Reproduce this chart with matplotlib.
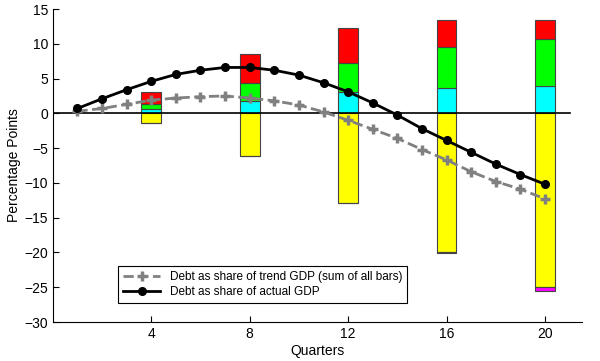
import matplotlib
matplotlib.use("Agg")
import matplotlib.pyplot as plt
import numpy as np

plt.rcParams["font.family"] = ["Liberation Sans", "DejaVu Sans"]

quarters = np.arange(1, 21)
actual = [0.7, 2.1, 3.4, 4.6, 5.6, 6.2, 6.6, 6.6, 6.2, 5.5, 4.4, 3.1, 1.5, -0.25, -2.2,
          -3.9, -5.6, -7.3, -8.8, -10.2]
trend = [0.3, 0.7, 1.3, 1.9, 2.2, 2.4, 2.5, 2.2, 1.8, 1.2, 0.2, -1.0, -2.3, -3.6, -5.2,
         -6.7, -8.4, -9.8, -10.9, -12.3]

bar_q = [4, 8, 12, 16, 20]
cyan = [0.6, 1.8, 3.0, 3.7, 3.9]
green = [0.7, 2.5, 4.3, 5.8, 6.8]
red = [1.8, 4.2, 5.0, 3.9, 2.7]
yellow = [-1.4, -6.1, -12.9, -19.9, -25.0]
magenta = [0.0, 0.0, 0.0, -0.2, -0.5]

fig = plt.figure(figsize=(6, 3.61), dpi=100)
ax = fig.add_axes([0.088, 0.108, 0.882, 0.867])

w = 0.8
ec = "#444444"
ax.bar(bar_q, cyan, w, color="#00ffff", edgecolor=ec, lw=0.8, zorder=2)
ax.bar(bar_q, green, w, bottom=cyan, color="#00ff00", edgecolor=ec, lw=0.8, zorder=2)
ax.bar(bar_q, red, w, bottom=np.add(cyan, green), color="#ff0000", edgecolor=ec, lw=0.8, zorder=2)
ax.bar(bar_q, yellow, w, color="#ffff00", edgecolor=ec, lw=0.8, zorder=2)
ax.bar(bar_q, magenta, w, bottom=yellow, color="#ff00ff", edgecolor=ec, lw=0.8, zorder=2)

ax.plot([0, 21], [0, 0], color="black", lw=1.2, zorder=3)

ax.plot(quarters, trend, "--", color="#808080", lw=2, marker="+", ms=7, mew=2.5,
        label="Debt as share of trend GDP (sum of all bars)", zorder=4)
ax.plot(quarters, actual, "-", color="black", lw=2, marker="o", ms=5.5,
        label="Debt as share of actual GDP", zorder=5)

ax.set_xlim(0, 21.5)
ax.set_ylim(-30, 15)
ax.set_xticks(bar_q)
ax.set_yticks(np.arange(-30, 16, 5))
ax.tick_params(direction="in", labelsize=10, length=4)
ax.spines["top"].set_visible(False)
ax.spines["right"].set_visible(False)
ax.set_xlabel("Quarters", fontsize=10, labelpad=2)
ax.set_ylabel("Percentage Points", fontsize=10, labelpad=2)

leg = ax.legend(loc="lower left", bbox_to_anchor=(0.123, 0.061), borderaxespad=0,
                fontsize=8.5, fancybox=False, edgecolor="black", framealpha=1,
                handlelength=3.2, labelspacing=0.3, borderpad=0.4)
leg.get_frame().set_linewidth(0.8)

fig.savefig("out.png", dpi=100)
